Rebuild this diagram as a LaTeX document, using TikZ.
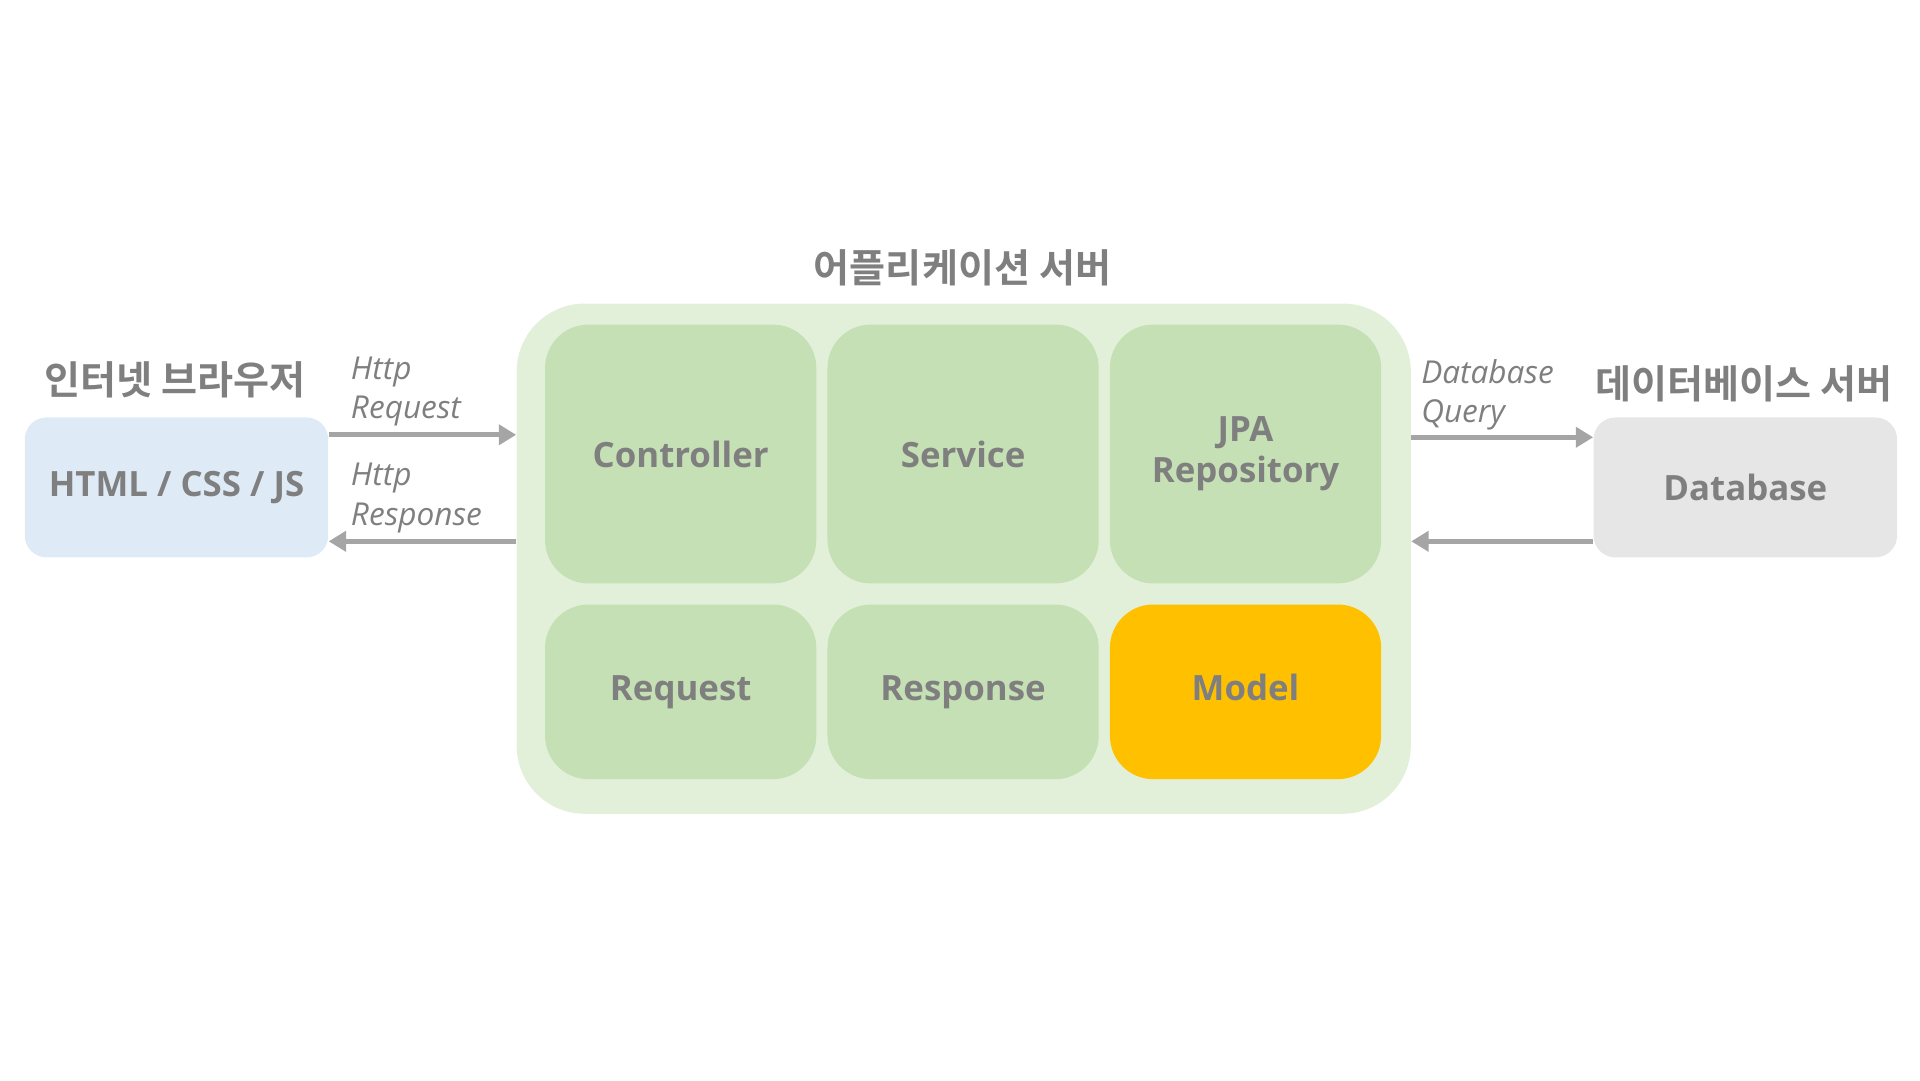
\documentclass[tikz,border=0pt]{standalone}
\usepackage{fontspec}
\setmainfont{Open Sans}
\newfontfamily\krfont{Noto Sans CJK KR}[BoldFont={Noto Sans CJK KR Bold}]
\usetikzlibrary{arrows.meta}
\definecolor{txtgray}{HTML}{7F7F7F}
\definecolor{arrgray}{HTML}{A5A5A5}
\definecolor{webblue}{HTML}{DEEBF7}
\definecolor{appgreen}{HTML}{E2F0D9}
\definecolor{partgreen}{HTML}{C5E0B4}
\definecolor{modelgold}{HTML}{FFC000}
\definecolor{dbgray}{HTML}{E7E6E6}
\begin{document}
\begin{tikzpicture}[x=0.02cm,y=-0.02cm,
  part/.style={rounded corners=0.7cm, fill=partgreen, minimum width=4.38cm, inner sep=0pt, text=txtgray, align=center, font=\fontsize{16}{19}\selectfont\bfseries},
  endbox/.style={rounded corners=0.35cm, minimum width=4.9cm, minimum height=2.26cm, inner sep=0pt, text=txtgray, font=\fontsize{16}{19}\selectfont\bfseries},
  title/.style={text=txtgray, inner sep=0pt, font=\krfont\fontsize{18}{22}\selectfont\bfseries},
  note/.style={text=txtgray, inner sep=0pt, anchor=west, align=left, font=\fontsize{14.5}{18}\selectfont\itshape},
  flow/.style={draw=arrgray, line width=2.3pt, -{Triangle[length=0.28cm,width=0.32cm]}}]
\useasboundingbox (0,0) rectangle (1550,872);
\node[endbox, fill=webblue] (web) at (142.5,393.5) {HTML / CSS / JS};
\node[title] (webtitle) at (141,307) {인터넷 브라우저};
\node[rounded corners=1.1cm, fill=appgreen, minimum width=14.44cm, minimum height=8.24cm] (app) at (778,451) {};
\node[title] (apptitle) at (777,216) {어플리케이션 서버};
\node[part, minimum height=4.18cm] (ctrl) at (549.5,366.5) {Controller};
\node[part, minimum height=4.18cm] (svc) at (777.5,366.5) {Service};
\node[part, minimum height=4.18cm] (repo) at (1005.5,366.5) {JPA\\Repository};
\node[part, minimum height=2.82cm] (req) at (549.5,558.5) {\strut Request};
\node[part, minimum height=2.82cm] (res) at (777.5,558.5) {\strut Response};
\node[part, minimum height=2.82cm, fill=modelgold] (model) at (1005.5,558.5) {\strut Model};
\node[endbox, fill=dbgray] (db) at (1409,393.5) {Database};
\node[title] (dbtitle) at (1408,310) {데이터베이스 서버};
\draw[flow] ([yshift=0.85cm]web.east) -- ([yshift=0.85cm]web.east -| app.west);
\draw[flow] ([yshift=-0.87cm]web.east -| app.west) -- ([yshift=-0.87cm]web.east);
\draw[flow] ([yshift=0.81cm]db.west -| app.east) -- ([yshift=0.81cm]db.west);
\draw[flow] ([yshift=-0.87cm]db.west) -- ([yshift=-0.87cm]db.west -| app.east);
\node[note] (httpreq) at (283,316) {Http\\Request};
\node[note] (httpres) at (283,402) {Http\\Response};
\node[note] (dbquery) at (1147,319) {Database\\Query};
\end{tikzpicture}
\end{document}
